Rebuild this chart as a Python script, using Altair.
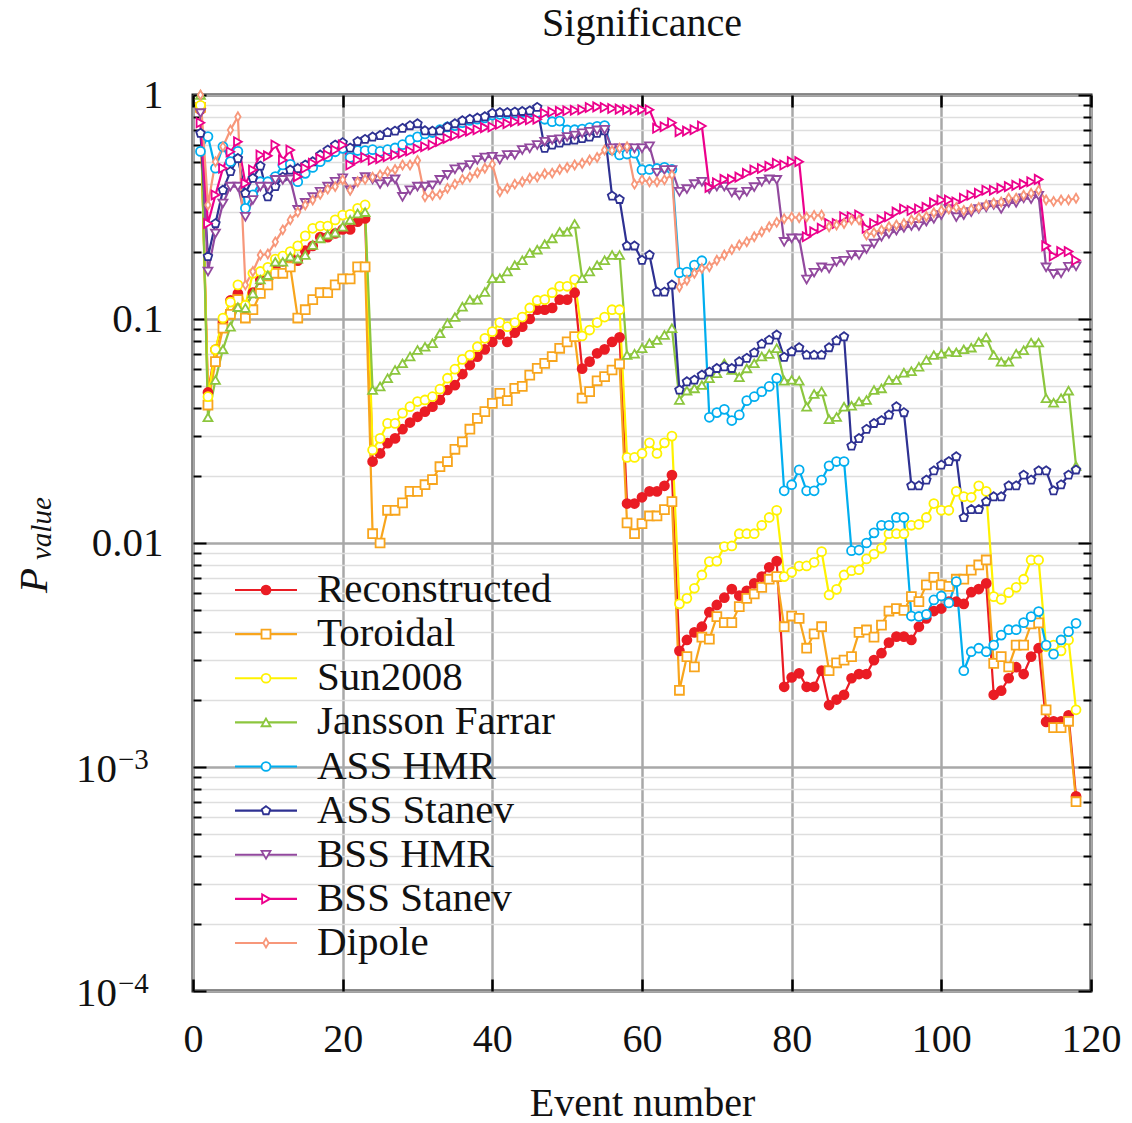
import altair as alt
import pandas as pd

FONT = "Liberation Serif"

SERIES = ["Reconstructed", "Toroidal", "Sun2008", "Jansson Farrar", "ASS HMR",
          "ASS Stanev", "BSS HMR", "BSS Stanev", "Dipole"]
COLORS = ["#ea1c24", "#f8a51d", "#fff200", "#8cc63e", "#00aeef",
          "#2e3192", "#92499e", "#ec008c", "#f7977a"]
FILLS = ["#ea1c24", "white", "white", "white", "white",
         "white", "white", "white", "white"]
PENTAGON = "M0,-1L0.951,-0.309L0.588,0.809L-0.588,0.809L-0.951,-0.309Z"
THIN_DIAMOND = "M0,-1L0.6,0L0,1L-0.6,0Z"
SHAPES = ["circle", "square", "circle", "triangle-up", "circle",
          PENTAGON, "triangle-down", "triangle-right", THIN_DIAMOND]

EVENTS = list(range(1, 119))

RECONSTRUCTED = [
    0.86, 0.047, 0.073, 0.097, 0.121, 0.130, 0.112, 0.131, 0.150, 0.150,
    0.170, 0.181, 0.190, 0.182, 0.202, 0.212, 0.232, 0.232, 0.241, 0.251,
    0.251, 0.272, 0.281, 0.0231, 0.0251, 0.0279, 0.0293, 0.0322, 0.0345, 0.0366,
    0.0386, 0.0406, 0.0435, 0.0482, 0.0507, 0.0568, 0.0623, 0.0679, 0.0732, 0.079,
    0.0854, 0.079, 0.0869, 0.0924, 0.100, 0.110, 0.110, 0.112, 0.122, 0.122,
    0.131, 0.060, 0.0645, 0.0703, 0.0732, 0.079, 0.0828, 0.0150, 0.0150, 0.0160,
    0.0170, 0.0170, 0.0180, 0.0201, 0.0033, 0.00369, 0.00399, 0.00423, 0.00491, 0.00529,
    0.0057, 0.00623, 0.00582, 0.00612, 0.0066, 0.00708, 0.00779, 0.0083, 0.00228, 0.00251,
    0.00262, 0.00228, 0.00228, 0.00269, 0.00189, 0.0020, 0.0021, 0.00249, 0.0026, 0.0026,
    0.0030, 0.00322, 0.00359, 0.00382, 0.00382, 0.00369, 0.00423, 0.00461, 0.00497, 0.0051,
    0.00547, 0.00547, 0.00535, 0.00603, 0.00623, 0.0066, 0.0021, 0.00219, 0.00249, 0.00279,
    0.0026, 0.00311, 0.00339, 0.00159, 0.0016, 0.0016, 0.0017, 0.00074]

TOROIDAL = [
    0.88, 0.0413, 0.0645, 0.091, 0.105, 0.122, 0.101, 0.110, 0.130, 0.142,
    0.160, 0.160, 0.171, 0.101, 0.110, 0.122, 0.131, 0.131, 0.142, 0.151,
    0.151, 0.171, 0.171, 0.0110, 0.0100, 0.0140, 0.0140, 0.0151, 0.0170, 0.0170,
    0.0182, 0.0192, 0.0219, 0.0231, 0.0262, 0.0283, 0.0322, 0.036, 0.0386, 0.042,
    0.0466, 0.0432, 0.049, 0.050, 0.0562, 0.0602, 0.0634, 0.068, 0.074, 0.079,
    0.0834, 0.0443, 0.0474, 0.053, 0.0553, 0.0592, 0.063, 0.0123, 0.0110, 0.0122,
    0.0132, 0.0132, 0.0141, 0.0153, 0.0022, 0.00311, 0.0028, 0.0038, 0.00372, 0.00469,
    0.00441, 0.00441, 0.0052, 0.00566, 0.00592, 0.00634, 0.00689, 0.00708, 0.00423, 0.00472,
    0.00461, 0.00339, 0.00393, 0.00423, 0.00269, 0.00292, 0.0030, 0.00311, 0.00399, 0.00409,
    0.0038, 0.0043, 0.00497, 0.0051, 0.0050, 0.00576, 0.00547, 0.0065, 0.00703, 0.0065,
    0.0064, 0.00689, 0.00689, 0.00757, 0.00798, 0.0084, 0.0029, 0.00311, 0.0028, 0.0035,
    0.0035, 0.00435, 0.0044, 0.0018, 0.0015, 0.0015, 0.0016, 0.0007]

SUN2008 = [
    0.90, 0.045, 0.073, 0.101, 0.119, 0.142, 0.115, 0.160, 0.163, 0.170,
    0.185, 0.191, 0.200, 0.212, 0.235, 0.254, 0.260, 0.260, 0.277, 0.291,
    0.293, 0.312, 0.323, 0.026, 0.0293, 0.0342, 0.0342, 0.038, 0.0406, 0.0428,
    0.0435, 0.045, 0.0486, 0.0544, 0.0597, 0.066, 0.069, 0.0752, 0.082, 0.0878,
    0.0964, 0.0924, 0.0964, 0.102, 0.112, 0.121, 0.122, 0.131, 0.140, 0.140,
    0.150, 0.084, 0.0893, 0.0964, 0.102, 0.110, 0.110, 0.0241, 0.0241, 0.0251,
    0.028, 0.0251, 0.028, 0.030, 0.00535, 0.00566, 0.00628, 0.0072, 0.00826, 0.0083,
    0.00964, 0.0097, 0.011, 0.011, 0.011, 0.0120, 0.0130, 0.0140, 0.00708, 0.0074,
    0.00789, 0.0079, 0.0082, 0.00915, 0.00586, 0.00621, 0.0072, 0.00752, 0.0076, 0.00849,
    0.00893, 0.00947, 0.011, 0.011, 0.011, 0.012, 0.0121, 0.013, 0.015, 0.014,
    0.014, 0.017, 0.0161, 0.016, 0.018, 0.017, 0.00576, 0.0056, 0.0060, 0.00634,
    0.00689, 0.0084, 0.0084, 0.00345, 0.0035, 0.0033, 0.00369, 0.0018]

JANSSON_FARRAR = [
    1.0, 0.0364, 0.0534, 0.0732, 0.0924, 0.113, 0.112, 0.130, 0.150, 0.157,
    0.180, 0.180, 0.190, 0.186, 0.193, 0.214, 0.229, 0.238, 0.243, 0.258,
    0.277, 0.296, 0.300, 0.0482, 0.050, 0.0544, 0.0592, 0.0634, 0.068, 0.0727,
    0.0752, 0.078, 0.0863, 0.0957, 0.102, 0.1135, 0.122, 0.122, 0.132, 0.152,
    0.152, 0.163, 0.174, 0.183, 0.197, 0.204, 0.216, 0.229, 0.245, 0.245,
    0.266, 0.152, 0.163, 0.174, 0.183, 0.193, 0.193, 0.069, 0.070, 0.074,
    0.078, 0.0805, 0.0849, 0.091, 0.0435, 0.0479, 0.049, 0.0507, 0.0544, 0.0572,
    0.0634, 0.0592, 0.055, 0.0602, 0.0634, 0.068, 0.0698, 0.074, 0.053, 0.0535,
    0.053, 0.0406, 0.0463, 0.0475, 0.0357, 0.0365, 0.0406, 0.041, 0.0428, 0.0435,
    0.0482, 0.049, 0.0534, 0.0534, 0.0576, 0.0585, 0.0612, 0.0656, 0.069, 0.070,
    0.0715, 0.071, 0.0732, 0.0745, 0.079, 0.0828, 0.069, 0.0645, 0.0645, 0.070,
    0.0725, 0.0785, 0.0785, 0.0443, 0.0423, 0.0443, 0.0479, 0.0221]

ASS_HMR = [
    0.56, 0.652, 0.471, 0.588, 0.504, 0.56, 0.312, 0.358, 0.41, 0.41,
    0.432, 0.487, 0.49, 0.41, 0.447, 0.475, 0.504, 0.531, 0.558, 0.578,
    0.526, 0.565, 0.565, 0.57, 0.56, 0.57, 0.58, 0.60, 0.63, 0.65,
    0.67, 0.68, 0.70, 0.72, 0.73, 0.752, 0.77, 0.78, 0.79, 0.814,
    0.82, 0.825, 0.83, 0.835, 0.84, 0.835, 0.779, 0.76, 0.765, 0.698,
    0.70, 0.705, 0.715, 0.725, 0.73, 0.568, 0.54, 0.545, 0.55, 0.463,
    0.465, 0.47, 0.475, 0.465, 0.161, 0.162, 0.174, 0.182, 0.0364, 0.0382,
    0.0395, 0.0352, 0.0373, 0.0432, 0.045, 0.0474, 0.050, 0.0544, 0.0171, 0.0182,
    0.0212, 0.0171, 0.0171, 0.0191, 0.0221, 0.0231, 0.0231, 0.00924, 0.0093, 0.010,
    0.0111, 0.012, 0.012, 0.013, 0.013, 0.00472, 0.0047, 0.0048, 0.00557, 0.0058,
    0.0054, 0.00672, 0.00269, 0.00327, 0.00339, 0.00327, 0.0035, 0.00388, 0.0041, 0.0041,
    0.00441, 0.00469, 0.00494, 0.0035, 0.00319, 0.00369, 0.00402, 0.00438]

ASS_STANEV = [
    0.675, 0.19, 0.267, 0.376, 0.455, 0.521, 0.364, 0.425, 0.482, 0.351,
    0.39, 0.43, 0.463, 0.47, 0.487, 0.504, 0.54, 0.568, 0.598, 0.613,
    0.58, 0.62, 0.634, 0.65, 0.66, 0.68, 0.69, 0.71, 0.73, 0.745,
    0.693, 0.69, 0.693, 0.72, 0.745, 0.768, 0.78, 0.79, 0.80, 0.829,
    0.835, 0.835, 0.84, 0.845, 0.85, 0.881, 0.578, 0.598, 0.61, 0.625,
    0.63, 0.64, 0.65, 0.675, 0.693, 0.354, 0.342, 0.212, 0.212, 0.183,
    0.193, 0.132, 0.132, 0.142, 0.0482, 0.0525, 0.0534, 0.0562, 0.058, 0.0602,
    0.0612, 0.0602, 0.0645, 0.0668, 0.0707, 0.0773, 0.0805, 0.0849, 0.0675, 0.0715,
    0.0745, 0.069, 0.069, 0.069, 0.0745, 0.080, 0.0834, 0.0271, 0.0293, 0.0322,
    0.0342, 0.0352, 0.0373, 0.0406, 0.0382, 0.018, 0.018, 0.0191, 0.021, 0.0223,
    0.0231, 0.0243, 0.013, 0.0141, 0.0141, 0.0153, 0.0161, 0.0161, 0.018, 0.018,
    0.0201, 0.0191, 0.021, 0.021, 0.0171, 0.0182, 0.0201, 0.0212]

BSS_HMR = [
    0.83, 0.163, 0.241, 0.328, 0.39, 0.39, 0.286, 0.34, 0.39, 0.39,
    0.418, 0.418, 0.42, 0.307, 0.33, 0.35, 0.37, 0.39, 0.41, 0.425,
    0.376, 0.41, 0.43, 0.42, 0.40, 0.41, 0.42, 0.351, 0.376, 0.39,
    0.39, 0.395, 0.418, 0.44, 0.466, 0.475, 0.487, 0.513, 0.526, 0.53,
    0.515, 0.54, 0.54, 0.568, 0.578, 0.598, 0.619, 0.63, 0.634, 0.65,
    0.66, 0.675, 0.685, 0.695, 0.70, 0.578, 0.578, 0.578, 0.578, 0.578,
    0.59, 0.45, 0.463, 0.463, 0.37, 0.38, 0.40, 0.41, 0.38, 0.39,
    0.39, 0.367, 0.357, 0.37, 0.388, 0.41, 0.42, 0.418, 0.221, 0.229,
    0.229, 0.15, 0.161, 0.17, 0.168, 0.18, 0.182, 0.193, 0.193, 0.205,
    0.217, 0.233, 0.24, 0.248, 0.255, 0.26, 0.26, 0.272, 0.28, 0.291,
    0.31, 0.285, 0.291, 0.30, 0.31, 0.315, 0.323, 0.31, 0.33, 0.33,
    0.346, 0.343, 0.355, 0.17, 0.159, 0.16, 0.171, 0.172]

BSS_STANEV = [
    0.752, 0.267, 0.358, 0.471, 0.558, 0.619, 0.403, 0.463, 0.54, 0.535,
    0.598, 0.513, 0.568, 0.432, 0.471, 0.496, 0.52, 0.54, 0.568, 0.598,
    0.487, 0.513, 0.526, 0.513, 0.52, 0.53, 0.54, 0.55, 0.562, 0.575,
    0.588, 0.598, 0.62, 0.64, 0.66, 0.675, 0.69, 0.70, 0.715, 0.72,
    0.74, 0.745, 0.76, 0.77, 0.775, 0.78, 0.829, 0.84, 0.845, 0.85,
    0.855, 0.86, 0.88, 0.885, 0.88, 0.87, 0.865, 0.86, 0.86, 0.86,
    0.86, 0.71, 0.722, 0.752, 0.686, 0.69, 0.70, 0.727, 0.387, 0.406,
    0.42, 0.42, 0.43, 0.447, 0.463, 0.47, 0.48, 0.496, 0.487, 0.504,
    0.504, 0.233, 0.245, 0.254, 0.267, 0.267, 0.286, 0.286, 0.291, 0.254,
    0.267, 0.277, 0.286, 0.30, 0.31, 0.305, 0.31, 0.315, 0.33, 0.34,
    0.34, 0.333, 0.346, 0.357, 0.364, 0.376, 0.376, 0.383, 0.39, 0.395,
    0.40, 0.41, 0.42, 0.212, 0.191, 0.20, 0.20, 0.183]

DIPOLE = [
    1.0, 0.323, 0.504, 0.588, 0.698, 0.80, 0.142, 0.163, 0.193, 0.195,
    0.221, 0.25, 0.277, 0.30, 0.323, 0.34, 0.36, 0.38, 0.39, 0.418,
    0.376, 0.41, 0.42, 0.43, 0.44, 0.455, 0.465, 0.487, 0.487, 0.51,
    0.351, 0.357, 0.36, 0.383, 0.40, 0.42, 0.43, 0.45, 0.471, 0.49,
    0.37, 0.383, 0.40, 0.41, 0.425, 0.43, 0.445, 0.448, 0.465, 0.475,
    0.487, 0.496, 0.513, 0.526, 0.568, 0.565, 0.578, 0.588, 0.40, 0.418,
    0.41, 0.41, 0.418, 0.44, 0.139, 0.149, 0.16, 0.168, 0.171, 0.183,
    0.193, 0.204, 0.214, 0.221, 0.233, 0.245, 0.258, 0.27, 0.28, 0.285,
    0.283, 0.285, 0.29, 0.291, 0.258, 0.263, 0.267, 0.277, 0.277, 0.237,
    0.243, 0.25, 0.258, 0.263, 0.267, 0.277, 0.283, 0.287, 0.298, 0.305,
    0.31, 0.315, 0.305, 0.31, 0.315, 0.323, 0.33, 0.333, 0.346, 0.346,
    0.357, 0.364, 0.376, 0.34, 0.335, 0.34, 0.34, 0.346]

VALUES = [RECONSTRUCTED, TOROIDAL, SUN2008, JANSSON_FARRAR, ASS_HMR,
          ASS_STANEV, BSS_HMR, BSS_STANEV, DIPOLE]
for v in VALUES:
    assert len(v) == len(EVENTS), len(v)

X_TICKS = [0, 20, 40, 60, 80, 100, 120]
Y_TICKS = [float(f"{k}e{e}") for e in range(-4, 0) for k in range(1, 10)] + [1.0]
POWER_TICKS = [1e-3, 1e-4]
POWER_EXPONENTS = ["\u22123", "\u22124"]

rows = []
for k, (name, vals) in enumerate(zip(SERIES, VALUES)):
    for ev, p in zip(EVENTS, vals):
        rows.append({"series": name, "order": k, "event": ev, "p": p})
df = pd.DataFrame(rows)

leg_df = pd.DataFrame({"series": SERIES, "row": list(range(len(SERIES)))})
pow_df = pd.DataFrame({"v": POWER_TICKS, "base": ["10", "10"], "exp": POWER_EXPONENTS})

DEC = "abs(log(datum.value)/LN10 - round(log(datum.value)/LN10)) < 0.001"
EXP = "round(log(datum.value)/LN10)"
LABEL_EXPR = (f"!({DEC}) ? '' : {EXP} == 0 ? '1' : {EXP} == -1 ? '0.1' : "
              f"{EXP} == -2 ? '0.01' : ''")

color_scale = alt.Scale(domain=SERIES, range=COLORS)
fill_scale = alt.Scale(domain=SERIES, range=FILLS)
shape_scale = alt.Scale(domain=SERIES, range=SHAPES)
x_scale = alt.Scale(domain=[0, 120], nice=False, zero=False)
y_scale = alt.Scale(type="log", domain=[1e-4, 1], nice=False)

y_tick_size = {"condition": {"test": DEC, "value": -13}, "value": -8}
grid_color = {"condition": {"test": DEC, "value": "#a8a8a8"}, "value": "#dedede"}
grid_width = {"condition": {"test": DEC, "value": 2.5}, "value": 1.6}

x_axis_bottom = alt.Axis(
    orient="bottom", values=X_TICKS, grid=True, gridColor="#a8a8a8", gridWidth=2.5,
    domain=False, ticks=True, tickSize=alt.ExprRef("-12"), tickColor="black",
    tickWidth=2.5, labelFont=FONT, labelFontSize=40, labelColor="#111111",
    labelPadding=40, labelFlush=False, labelOverlap=False, format="d",
    title="Event number", titleFont=FONT, titleFontSize=40,
    titleFontWeight="normal", titleColor="#111111", titlePadding=24)
y_axis_left = alt.Axis(
    orient="left", values=Y_TICKS, grid=True, gridColor=grid_color,
    gridWidth=grid_width, domain=False, ticks=True, tickSize=y_tick_size,
    tickColor="black", tickWidth=2, labelExpr=LABEL_EXPR, labelFont=FONT,
    labelFontSize=41, labelColor="#111111", labelPadding=43, labelOverlap=False,
    labelFlush=False, title=None)
x_axis_top = alt.Axis(
    orient="top", values=X_TICKS, grid=False, domain=False, labels=False,
    ticks=True, tickSize=alt.ExprRef("-12"), tickColor="black", tickWidth=2.5,
    title=None)
y_axis_right = alt.Axis(
    orient="right", values=Y_TICKS, grid=False, domain=False, labels=False,
    ticks=True, tickSize=y_tick_size, tickColor="black", tickWidth=2, title=None)

base = alt.Chart(df)
lines = base.mark_line(strokeWidth=2.2).encode(
    x=alt.X("event:Q", scale=x_scale, axis=x_axis_bottom),
    y=alt.Y("p:Q", scale=y_scale, axis=y_axis_left),
    color=alt.Color("series:N", scale=color_scale, legend=None),
    order=alt.Order("event:Q"),
)
points = base.mark_point(size=80, strokeWidth=1.8, opacity=1).encode(
    x=alt.X("event:Q", scale=x_scale, axis=x_axis_top),
    y=alt.Y("p:Q", scale=y_scale, axis=y_axis_right),
    shape=alt.Shape("series:N", scale=shape_scale, legend=None),
    stroke=alt.Stroke("series:N", scale=color_scale, legend=None),
    fill=alt.Fill("series:N", scale=fill_scale, legend=None),
)
pow_base = alt.Chart(pow_df)
pow_ten = pow_base.mark_text(align="right", baseline="alphabetic", font=FONT,
                             fontSize=41, color="#111111", dy=15).encode(
    x=alt.value(-76), y=alt.Y("v:Q", scale=y_scale, axis=None), text="base:N")
pow_exp = pow_base.mark_text(align="left", baseline="alphabetic", font=FONT,
                             fontSize=29, color="#111111", dy=2).encode(
    x=alt.value(-75), y=alt.Y("v:Q", scale=y_scale, axis=None), text="exp:N")
data_layer = alt.layer(lines, points, pow_ten, pow_exp).resolve_axis(
    x="independent", y="independent")

row_y = alt.Y("row:Q", scale=alt.Scale(domain=[0, 8], range=[495, 848]), axis=None)
leg_base = alt.Chart(leg_df)
leg_rule = leg_base.mark_rule(strokeWidth=2.2).encode(
    x=alt.value(42), x2=alt.value(104), y=row_y,
    color=alt.Color("series:N", scale=color_scale, legend=None),
)
leg_pts = leg_base.mark_point(size=80, strokeWidth=1.8, opacity=1).encode(
    x=alt.value(73), y=row_y,
    shape=alt.Shape("series:N", scale=shape_scale, legend=None),
    stroke=alt.Stroke("series:N", scale=color_scale, legend=None),
    fill=alt.Fill("series:N", scale=fill_scale, legend=None),
)
leg_txt = leg_base.mark_text(align="left", baseline="middle", font=FONT,
                             fontSize=41, color="#111111").encode(
    x=alt.value(124), y=row_y, text="series:N",
)
ptitle = alt.Chart(pd.DataFrame({"t": ["P"]})).mark_text(
    angle=270, align="left", baseline="alphabetic", font=FONT, fontSize=41,
    fontStyle="italic", color="#111111").encode(
    x=alt.value(-146), y=alt.value(498), text="t:N")
vtitle = alt.Chart(pd.DataFrame({"t": ["value"]})).mark_text(
    angle=270, align="left", baseline="alphabetic", font=FONT, fontSize=29,
    fontStyle="italic", color="#111111").encode(
    x=alt.value(-142), y=alt.value(465), text="t:N")
legend_layer = alt.layer(leg_rule, leg_pts, leg_txt, ptitle, vtitle)

chart = alt.layer(data_layer, legend_layer).resolve_scale(y="independent").properties(
    width=898, height=896,
    autosize=alt.AutoSizeParams(type="none"),
    padding={"left": 193, "top": 95, "right": 41, "bottom": 132},
    title=alt.TitleParams(text="Significance", font=FONT, fontSize=40,
                          fontWeight="normal", color="#111111", anchor="middle",
                          offset=30, frame="group"),
).configure_view(stroke="#1a1a1a", strokeWidth=3)

chart.save("out.html", embed_options={"renderer": "svg", "actions": False})
